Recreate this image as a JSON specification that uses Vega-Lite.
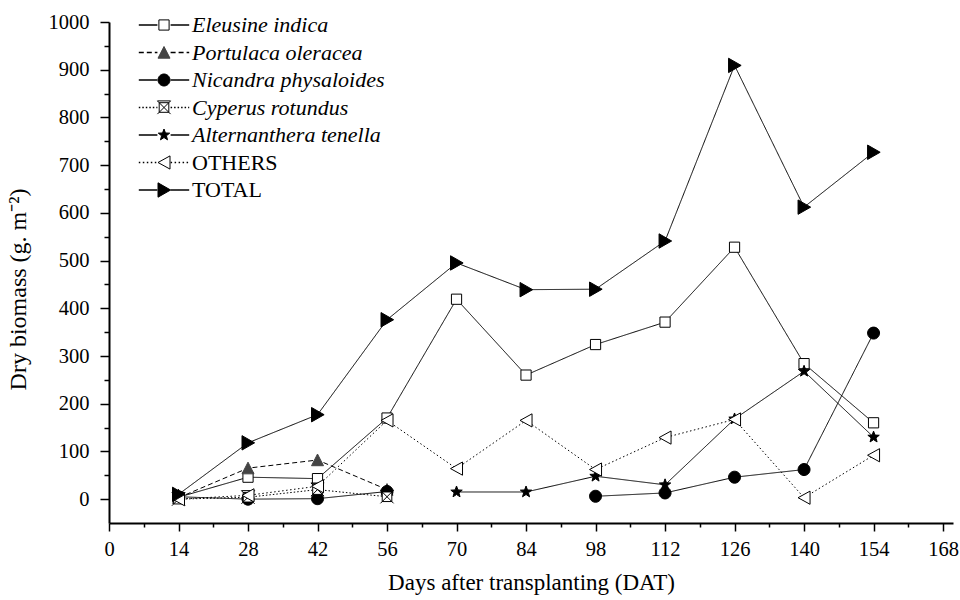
{
  "$schema": "https://vega.github.io/schema/vega-lite/v6.json",
  "width": 844,
  "height": 501,
  "autosize": {"type": "none"},
  "padding": {"left": 109, "top": 22, "right": 7, "bottom": 77},
  "background": "white",
  "config": {
    "view": {"stroke": null},
    "font": "Liberation Serif",
    "axis": {
      "grid": false,
      "domainColor": "black",
      "domainWidth": 2,
      "tickColor": "black",
      "tickWidth": 1.5,
      "labelFont": "Liberation Serif",
      "labelFontSize": 20.5,
      "labelColor": "black",
      "labelOverlap": false,
      "labelFlush": false,
      "titleFont": "Liberation Serif",
      "titleFontSize": 23,
      "titleFontWeight": "normal",
      "titleColor": "black"
    },
    "legend": {
      "labelFont": "Liberation Serif",
      "labelFontSize": 22,
      "labelColor": "black",
      "labelLimit": 400,
      "labelFontStyle": {"expr": "datum.label === 'OTHERS' || datum.label === 'TOTAL' ? 'normal' : 'italic'"}
    }
  },
  "data": {
    "values": [
      {"series": "Eleusine indica", "day": 14, "biomass": 4},
      {"series": "Eleusine indica", "day": 28, "biomass": 46},
      {"series": "Eleusine indica", "day": 42, "biomass": 43},
      {"series": "Eleusine indica", "day": 56, "biomass": 170},
      {"series": "Eleusine indica", "day": 70, "biomass": 419},
      {"series": "Eleusine indica", "day": 84, "biomass": 260},
      {"series": "Eleusine indica", "day": 98, "biomass": 324},
      {"series": "Eleusine indica", "day": 112, "biomass": 371},
      {"series": "Eleusine indica", "day": 126, "biomass": 528},
      {"series": "Eleusine indica", "day": 140, "biomass": 284},
      {"series": "Eleusine indica", "day": 154, "biomass": 160},
      {"series": "Portulaca oleracea", "day": 14, "biomass": 3},
      {"series": "Portulaca oleracea", "day": 28, "biomass": 65},
      {"series": "Portulaca oleracea", "day": 42, "biomass": 82},
      {"series": "Portulaca oleracea", "day": 56, "biomass": 20},
      {"series": "Nicandra physaloides", "day": 14, "biomass": 5},
      {"series": "Nicandra physaloides", "day": 28, "biomass": 0},
      {"series": "Nicandra physaloides", "day": 42, "biomass": 1},
      {"series": "Nicandra physaloides", "day": 56, "biomass": 16},
      {"series": "Nicandra physaloides", "day": 70, "biomass": null},
      {"series": "Nicandra physaloides", "day": 84, "biomass": null},
      {"series": "Nicandra physaloides", "day": 98, "biomass": 6},
      {"series": "Nicandra physaloides", "day": 112, "biomass": 13},
      {"series": "Nicandra physaloides", "day": 126, "biomass": 46},
      {"series": "Nicandra physaloides", "day": 140, "biomass": 62},
      {"series": "Nicandra physaloides", "day": 154, "biomass": 348},
      {"series": "Cyperus rotundus", "day": 14, "biomass": 0},
      {"series": "Cyperus rotundus", "day": 28, "biomass": 4},
      {"series": "Cyperus rotundus", "day": 42, "biomass": 20},
      {"series": "Cyperus rotundus", "day": 56, "biomass": 5},
      {"series": "Alternanthera tenella", "day": 14, "biomass": 8},
      {"series": "Alternanthera tenella", "day": 28, "biomass": null},
      {"series": "Alternanthera tenella", "day": 42, "biomass": null},
      {"series": "Alternanthera tenella", "day": 56, "biomass": null},
      {"series": "Alternanthera tenella", "day": 70, "biomass": 15},
      {"series": "Alternanthera tenella", "day": 84, "biomass": 15},
      {"series": "Alternanthera tenella", "day": 98, "biomass": 48},
      {"series": "Alternanthera tenella", "day": 112, "biomass": 30},
      {"series": "Alternanthera tenella", "day": 126, "biomass": 168},
      {"series": "Alternanthera tenella", "day": 140, "biomass": 268},
      {"series": "Alternanthera tenella", "day": 154, "biomass": 130},
      {"series": "OTHERS", "day": 14, "biomass": 0},
      {"series": "OTHERS", "day": 28, "biomass": 8},
      {"series": "OTHERS", "day": 42, "biomass": 27},
      {"series": "OTHERS", "day": 56, "biomass": 165},
      {"series": "OTHERS", "day": 70, "biomass": 64},
      {"series": "OTHERS", "day": 84, "biomass": 165},
      {"series": "OTHERS", "day": 98, "biomass": 62},
      {"series": "OTHERS", "day": 112, "biomass": 129},
      {"series": "OTHERS", "day": 126, "biomass": 167},
      {"series": "OTHERS", "day": 140, "biomass": 3},
      {"series": "OTHERS", "day": 154, "biomass": 92},
      {"series": "TOTAL", "day": 14, "biomass": 10},
      {"series": "TOTAL", "day": 28, "biomass": 118},
      {"series": "TOTAL", "day": 42, "biomass": 177},
      {"series": "TOTAL", "day": 56, "biomass": 376},
      {"series": "TOTAL", "day": 70, "biomass": 495},
      {"series": "TOTAL", "day": 84, "biomass": 439},
      {"series": "TOTAL", "day": 98, "biomass": 440},
      {"series": "TOTAL", "day": 112, "biomass": 541},
      {"series": "TOTAL", "day": 126, "biomass": 909},
      {"series": "TOTAL", "day": 140, "biomass": 612},
      {"series": "TOTAL", "day": 154, "biomass": 727}
    ]
  },
  "encoding": {
    "x": {
      "field": "day",
      "type": "quantitative",
      "scale": {"domain": [0, 170], "nice": false, "zero": false},
      "axis": {
        "title": "Days after transplanting (DAT)",
        "values": [0, 7, 14, 21, 28, 35, 42, 49, 56, 63, 70, 77, 84, 91, 98, 105, 112, 119, 126, 133, 140, 147, 154, 161, 168],
        "labelExpr": "datum.value % 14 === 0 ? datum.label : ''",
        "tickSize": {"condition": {"test": "datum.value % 14 === 0", "value": 8}, "value": 4},
        "labelPadding": 8,
        "titlePadding": 12
      }
    },
    "y": {
      "field": "biomass",
      "type": "quantitative",
      "scale": {"domain": [-50, 1000], "nice": false, "zero": false},
      "axis": {
        "title": "Dry biomass (g. m⁻²)",
        "titleFontSize": 24,
        "titleY": 267,
        "format": "d",
        "values": [0, 50, 100, 150, 200, 250, 300, 350, 400, 450, 500, 550, 600, 650, 700, 750, 800, 850, 900, 950, 1000],
        "labelExpr": "datum.value % 100 === 0 ? datum.label : ''",
        "tickSize": {"condition": {"test": "datum.value % 100 === 0", "value": 9}, "value": 5},
        "labelPadding": 11,
        "titlePadding": 18
      }
    }
  },
  "layer": [
    {
      "mark": {"type": "line", "color": "black", "strokeWidth": 1, "invalid": "break-paths-show-domains"},
      "encoding": {
        "strokeDash": {
          "field": "series",
          "type": "nominal",
          "sort": null,
          "scale": {"range": [[1, 0], [5, 3], [1, 0], [1.5, 2], [1, 0], [1.5, 2.5], [1, 0]]},
          "legend": {
            "title": null,
            "orient": "none",
            "legendX": 44,
            "legendY": -8,
            "padding": 0,
            "symbolType": "M-4.2,0H-1.1M1.1,0H4.2",
            "symbolSize": 144,
            "symbolStrokeColor": "black",
            "symbolStrokeWidth": 1.3,
            "symbolOpacity": 1,
            "labelOffset": 17,
            "rowPadding": 5.5,
            "labelOpacity": 0
          }
        }
      }
    },
    {
      "mark": {"type": "point", "filled": true, "strokeWidth": 1, "opacity": 1, "size": 144},
      "encoding": {
        "shape": {
          "field": "series",
          "type": "nominal",
          "scale": {
            "domain": ["Eleusine indica", "Portulaca oleracea", "Nicandra physaloides", "Cyperus rotundus", "Alternanthera tenella", "OTHERS", "TOTAL"],
            "range": [
              "M-0.85,-0.85H0.85V0.85H-0.85Z M-4.2,0M4.2,0",
              "M0,-1L1,0.95L-1,0.95Z M-4.2,0M4.2,0",
              "M1,0A1,1,0,1,1,-1,0A1,1,0,1,1,1,0Z M-4.2,0M4.2,0",
              "M-0.8,-0.8H0.8V0.8H-0.8Z M-1.1,-1.1L1.1,1.1M1.1,-1.1L-1.1,1.1 M-1.1,-1.1H1.1 M-4.2,0M4.2,0",
              "M0,-1L0.247,-0.34L0.951,-0.309L0.399,0.13L0.588,0.809L0,0.42L-0.588,0.809L-0.399,0.13L-0.951,-0.309L-0.247,-0.34Z M-4.2,0M4.2,0",
              "M-1,0L1,-1.1L1,1.1Z M-4.2,0M4.2,0",
              "M1.1,0L-1,-1.2L-1,1.2Z M-4.2,0M4.2,0"
            ]
          },
          "legend": {
            "title": null,
            "orient": "none",
            "legendX": 44,
            "legendY": -8,
            "padding": 0,
            "symbolSize": 144,
            "symbolStrokeWidth": 1,
            "symbolOpacity": 1,
            "labelOffset": 17,
            "rowPadding": 5.5
          }
        },
        "fill": {
          "field": "series",
          "type": "nominal",
          "scale": {
            "domain": ["Eleusine indica", "Portulaca oleracea", "Nicandra physaloides", "Cyperus rotundus", "Alternanthera tenella", "OTHERS", "TOTAL"],
            "range": ["white", "#444444", "black", "white", "black", "white", "black"]
          }
        },
        "stroke": {
          "field": "series",
          "type": "nominal",
          "scale": {
            "domain": ["Eleusine indica", "Portulaca oleracea", "Nicandra physaloides", "Cyperus rotundus", "Alternanthera tenella", "OTHERS", "TOTAL"],
            "range": ["black", "#444444", "black", "black", "black", "black", "black"]
          }
        }
      }
    }
  ]
}
